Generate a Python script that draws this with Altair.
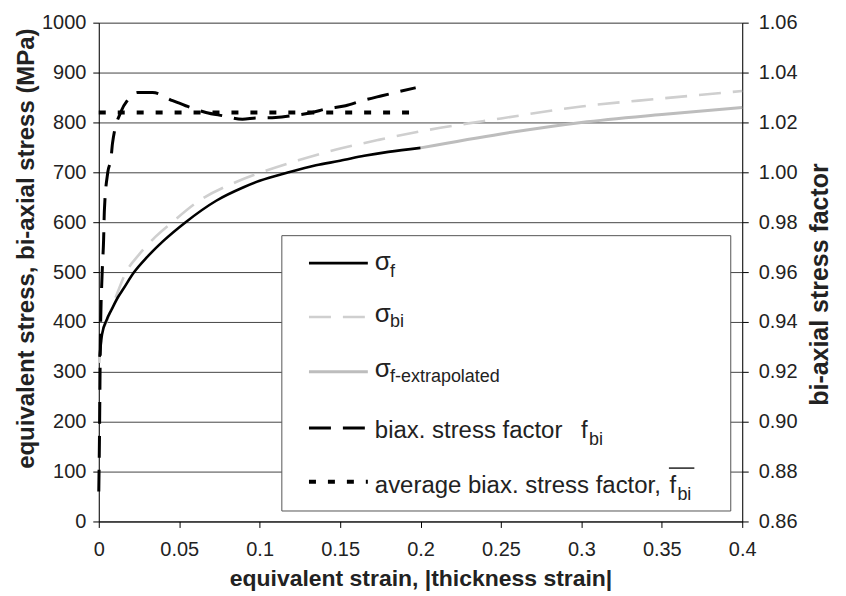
import altair as alt
import pandas as pd

# ---- data ----
strain_f = [0.0005, 0.002, 0.005, 0.008, 0.012, 0.015, 0.022, 0.03, 0.04, 0.054,
            0.073, 0.09, 0.1, 0.118, 0.135, 0.15, 0.165, 0.18, 0.2]
sigma_f = [330, 375, 405, 425, 450, 465, 500, 530, 562, 600,
           643, 670, 683, 700, 714, 723, 733, 741, 749]

strain_bi = [0.0003, 0.002, 0.005, 0.01, 0.017, 0.025, 0.035, 0.0457, 0.0624, 0.085,
             0.1037, 0.124, 0.147, 0.174, 0.205, 0.25, 0.3, 0.35, 0.4]
sigma_bi = [318, 377, 402, 445, 500, 535, 570, 600, 643, 680,
            703, 724, 745, 765, 785, 808, 832, 848, 863]

strain_ext = [0.2, 0.25, 0.3, 0.35, 0.4]
sigma_ext = [749, 777, 800, 816, 830]

strain_fac = [0.0, 0.0004, 0.001, 0.002, 0.003, 0.0035, 0.0056, 0.0077, 0.0085, 0.0139,
              0.018, 0.0242, 0.0335, 0.0459, 0.054, 0.0666, 0.0769, 0.0893, 0.0976, 0.11,
              0.1203, 0.1327, 0.141, 0.1534, 0.1637, 0.176, 0.197]
factor = [0.872, 0.892, 0.933, 0.958, 0.973, 0.985, 1.0, 1.006, 1.0115, 1.0245,
          1.029, 1.032, 1.032, 1.0287, 1.0267, 1.024, 1.0227, 1.0213, 1.0218, 1.022,
          1.0227, 1.024, 1.0254, 1.0267, 1.0287, 1.0307, 1.0339]

strain_avg = [0.0, 0.197]
avg_factor = [1.024, 1.024]

x_ticks = [0, 0.05, 0.1, 0.15, 0.2, 0.25, 0.3, 0.35, 0.4]
y_ticks = [0, 100, 200, 300, 400, 500, 600, 700, 800, 900, 1000]
y2_ticks = [0.86, 0.88, 0.90, 0.92, 0.94, 0.96, 0.98, 1.00, 1.02, 1.04, 1.06]

FONT = "Liberation Sans"
TICK_FS = 20

df_f = pd.DataFrame({"strain": strain_f, "stress": sigma_f})
df_bi = pd.DataFrame({"strain": strain_bi, "stress": sigma_bi})
df_ext = pd.DataFrame({"strain": strain_ext, "stress": sigma_ext})
df_fac = pd.DataFrame({"strain": strain_fac, "factor": factor})
df_avg = pd.DataFrame({"strain": strain_avg, "factor": avg_factor})

X = alt.X("strain:Q",
          scale=alt.Scale(domain=[0, 0.4], nice=False, zero=False),
          axis=alt.Axis(values=x_ticks, format="~g", title="equivalent strain, |thickness strain|",
                        grid=False, tickSize=6, labelPadding=12, titlePadding=8,
                        labelFontSize=TICK_FS, titleFontSize=23, labelFont=FONT, titleFont=FONT,
                        titleFontWeight="bold", domainColor="black", tickColor="black",
                        labelColor="#222", titleColor="#222", labelFlush=False))

Y_left = alt.Y("stress:Q",
               scale=alt.Scale(domain=[0, 1000], nice=False, zero=False),
               axis=alt.Axis(values=y_ticks, format="d",
                             title="equivalent stress, bi-axial stress (MPa)",
                             grid=True, gridColor="#444", gridWidth=1,
                             tickSize=6, labelPadding=7, titlePadding=3, titleY=226,
                             labelFontSize=TICK_FS, titleFontSize=24, labelFont=FONT, titleFont=FONT,
                             titleFontWeight="bold", domainColor="black", tickColor="black",
                             labelColor="#222", titleColor="#222", labelFlush=False))

Y_right = alt.Y("factor:Q",
                scale=alt.Scale(domain=[0.86, 1.06], nice=False, zero=False),
                axis=alt.Axis(orient="right", values=y2_ticks, format=".2f",
                              title="bi-axial stress factor", titleAngle=270, titleY=262,
                              grid=False, tickSize=6, labelPadding=10, titlePadding=36,
                              labelFontSize=TICK_FS, titleFontSize=25, labelFont=FONT, titleFont=FONT,
                              titleFontWeight="bold", domainColor="black", tickColor="black",
                              labelColor="#222", titleColor="#222", labelFlush=False))

l_f = alt.Chart(df_f).mark_line(color="black", strokeWidth=2.6, interpolate="monotone").encode(x=X, y=Y_left)
l_bi = alt.Chart(df_bi).mark_line(color="#cfcfcf", strokeWidth=2.6, strokeDash=[22, 12],
                                  interpolate="monotone").encode(x=X, y=Y_left)
l_ext = alt.Chart(df_ext).mark_line(color="#bdbdbd", strokeWidth=3, interpolate="monotone").encode(x=X, y=Y_left)
left = alt.layer(l_bi, l_ext, l_f)

l_fac = alt.Chart(df_fac).mark_line(color="black", strokeWidth=3, strokeDash=[22, 12],
                                    interpolate="monotone").encode(x=X, y=Y_right)
l_avg = alt.Chart(df_avg).mark_line(color="black", strokeWidth=4, strokeDash=[7, 12]).encode(x=X, y=Y_right)
right = alt.layer(l_fac, l_avg)

one = pd.DataFrame({"k": [0]})

box = alt.Chart(one).mark_rect(fill="white", stroke="#555", strokeWidth=1).encode(
    x=alt.value(183.5), x2=alt.value(633.5), y=alt.value(213.5), y2=alt.value(489.5))


def sym(y, color, width, dash=None):
    kw = dict(color=color, strokeWidth=width)
    if dash:
        kw["strokeDash"] = dash
    return alt.Chart(one).mark_rule(**kw).encode(
        x=alt.value(210.7), x2=alt.value(269.7), y=alt.value(y))


def txt(s, x, y, size):
    return alt.Chart(one).mark_text(text=s, fontSize=size, font=FONT, align="left",
                                    baseline="alphabetic", color="#222").encode(
        x=alt.value(x), y=alt.value(y))


LS = 24
SUB = 18
legend = [
    box,
    sym(241, "black", 2.6),
    txt("σ", 276.7, 248.3, 26), txt("f", 292, 255, SUB),
    sym(295, "#cfcfcf", 2.6, [22, 12]),
    txt("σ", 276.7, 300, 26), txt("bi", 292, 305, SUB),
    sym(350, "#bdbdbd", 3),
    txt("σ", 276.7, 355, 26), txt("f-extrapolated", 292, 360, SUB),
    sym(406.3, "black", 3, [22, 12]),
    txt("biax. stress factor", 276.7, 416.7, LS),
    txt("f", 483.5, 416.7, LS), txt("bi", 491.5, 423, SUB),
    sym(460.3, "black", 4, [7, 12]),
    txt("average biax. stress factor,", 276.7, 471.7, LS),
    txt("f", 572, 471.7, LS), txt("bi", 580, 478, SUB),
    alt.Chart(one).mark_rule(color="#222", strokeWidth=1.5).encode(
        x=alt.value(571.5), x2=alt.value(597), y=alt.value(446.5)),
]

chart = alt.layer(left, right, *legend).resolve_scale(y="independent").properties(
    width=645, height=500,
    autosize=alt.AutoSizeParams(type="none"),
    padding={"left": 91, "top": 14, "right": 96, "bottom": 72},
).configure_view(stroke=None).configure(background="white")

chart.save("out.html", embed_options={"renderer": "svg", "actions": False})
